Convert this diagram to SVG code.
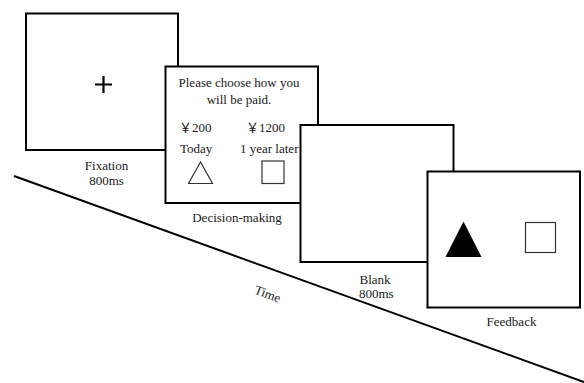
<svg xmlns="http://www.w3.org/2000/svg" width="584" height="383" viewBox="0 0 584 383">
<style>
.scr{fill:#fff;stroke:#000;stroke-width:2}
.t{font-family:"Liberation Serif","Times New Roman","Noto Sans CJK SC",serif;font-size:13px;fill:#1a1a1a}
.c{text-anchor:middle}
.thin{fill:none;stroke:#333;stroke-width:1.2}
</style>
<g id="connectors">
<line x1="14" y1="176" x2="584" y2="382" stroke="#000" stroke-width="2"/>
<text class="t c" transform="translate(266 298) rotate(21)">Time</text>
</g>
<g id="fixation">
<rect class="scr" x="26" y="13.5" width="152" height="136.5"/>
<path d="M95 84.5H112M103.5 76V93" stroke="#000" stroke-width="2.2"/>
<text class="t c" x="106.5" y="170">Fixation</text>
<text class="t c" x="106.5" y="185">800ms</text>
</g>
<g id="decision">
<rect class="scr" x="165.5" y="66.5" width="152.5" height="136.5"/>
<text class="t c" x="239" y="87">Please choose how you</text>
<text class="t c" x="239" y="103.5">will be paid.</text>
<text class="t" x="179" y="132">￥200</text>
<text class="t" x="246" y="132">￥1200</text>
<text class="t" x="180" y="153">Today</text>
<text class="t" x="240" y="153">1 year later</text>
<polygon class="thin" points="200.5,162 188.5,183.5 212.5,183.5"/>
<rect class="thin" x="262" y="161" width="22" height="22.5"/>
<text class="t c" x="237" y="222">Decision-making</text>
</g>
<g id="blank">
<rect class="scr" x="300.5" y="125" width="153" height="137"/>
<text class="t" x="359.5" y="284">Blank</text>
<text class="t" x="359" y="298">800ms</text>
</g>
<g id="feedback">
<rect class="scr" x="427.5" y="171.5" width="152.5" height="136"/>
<polygon points="463.5,221.5 445.5,257 481.5,257" fill="#000"/>
<rect class="thin" x="525.5" y="222.5" width="30" height="30"/>
<text class="t c" x="511.5" y="326">Feedback</text>
</g>
</svg>
